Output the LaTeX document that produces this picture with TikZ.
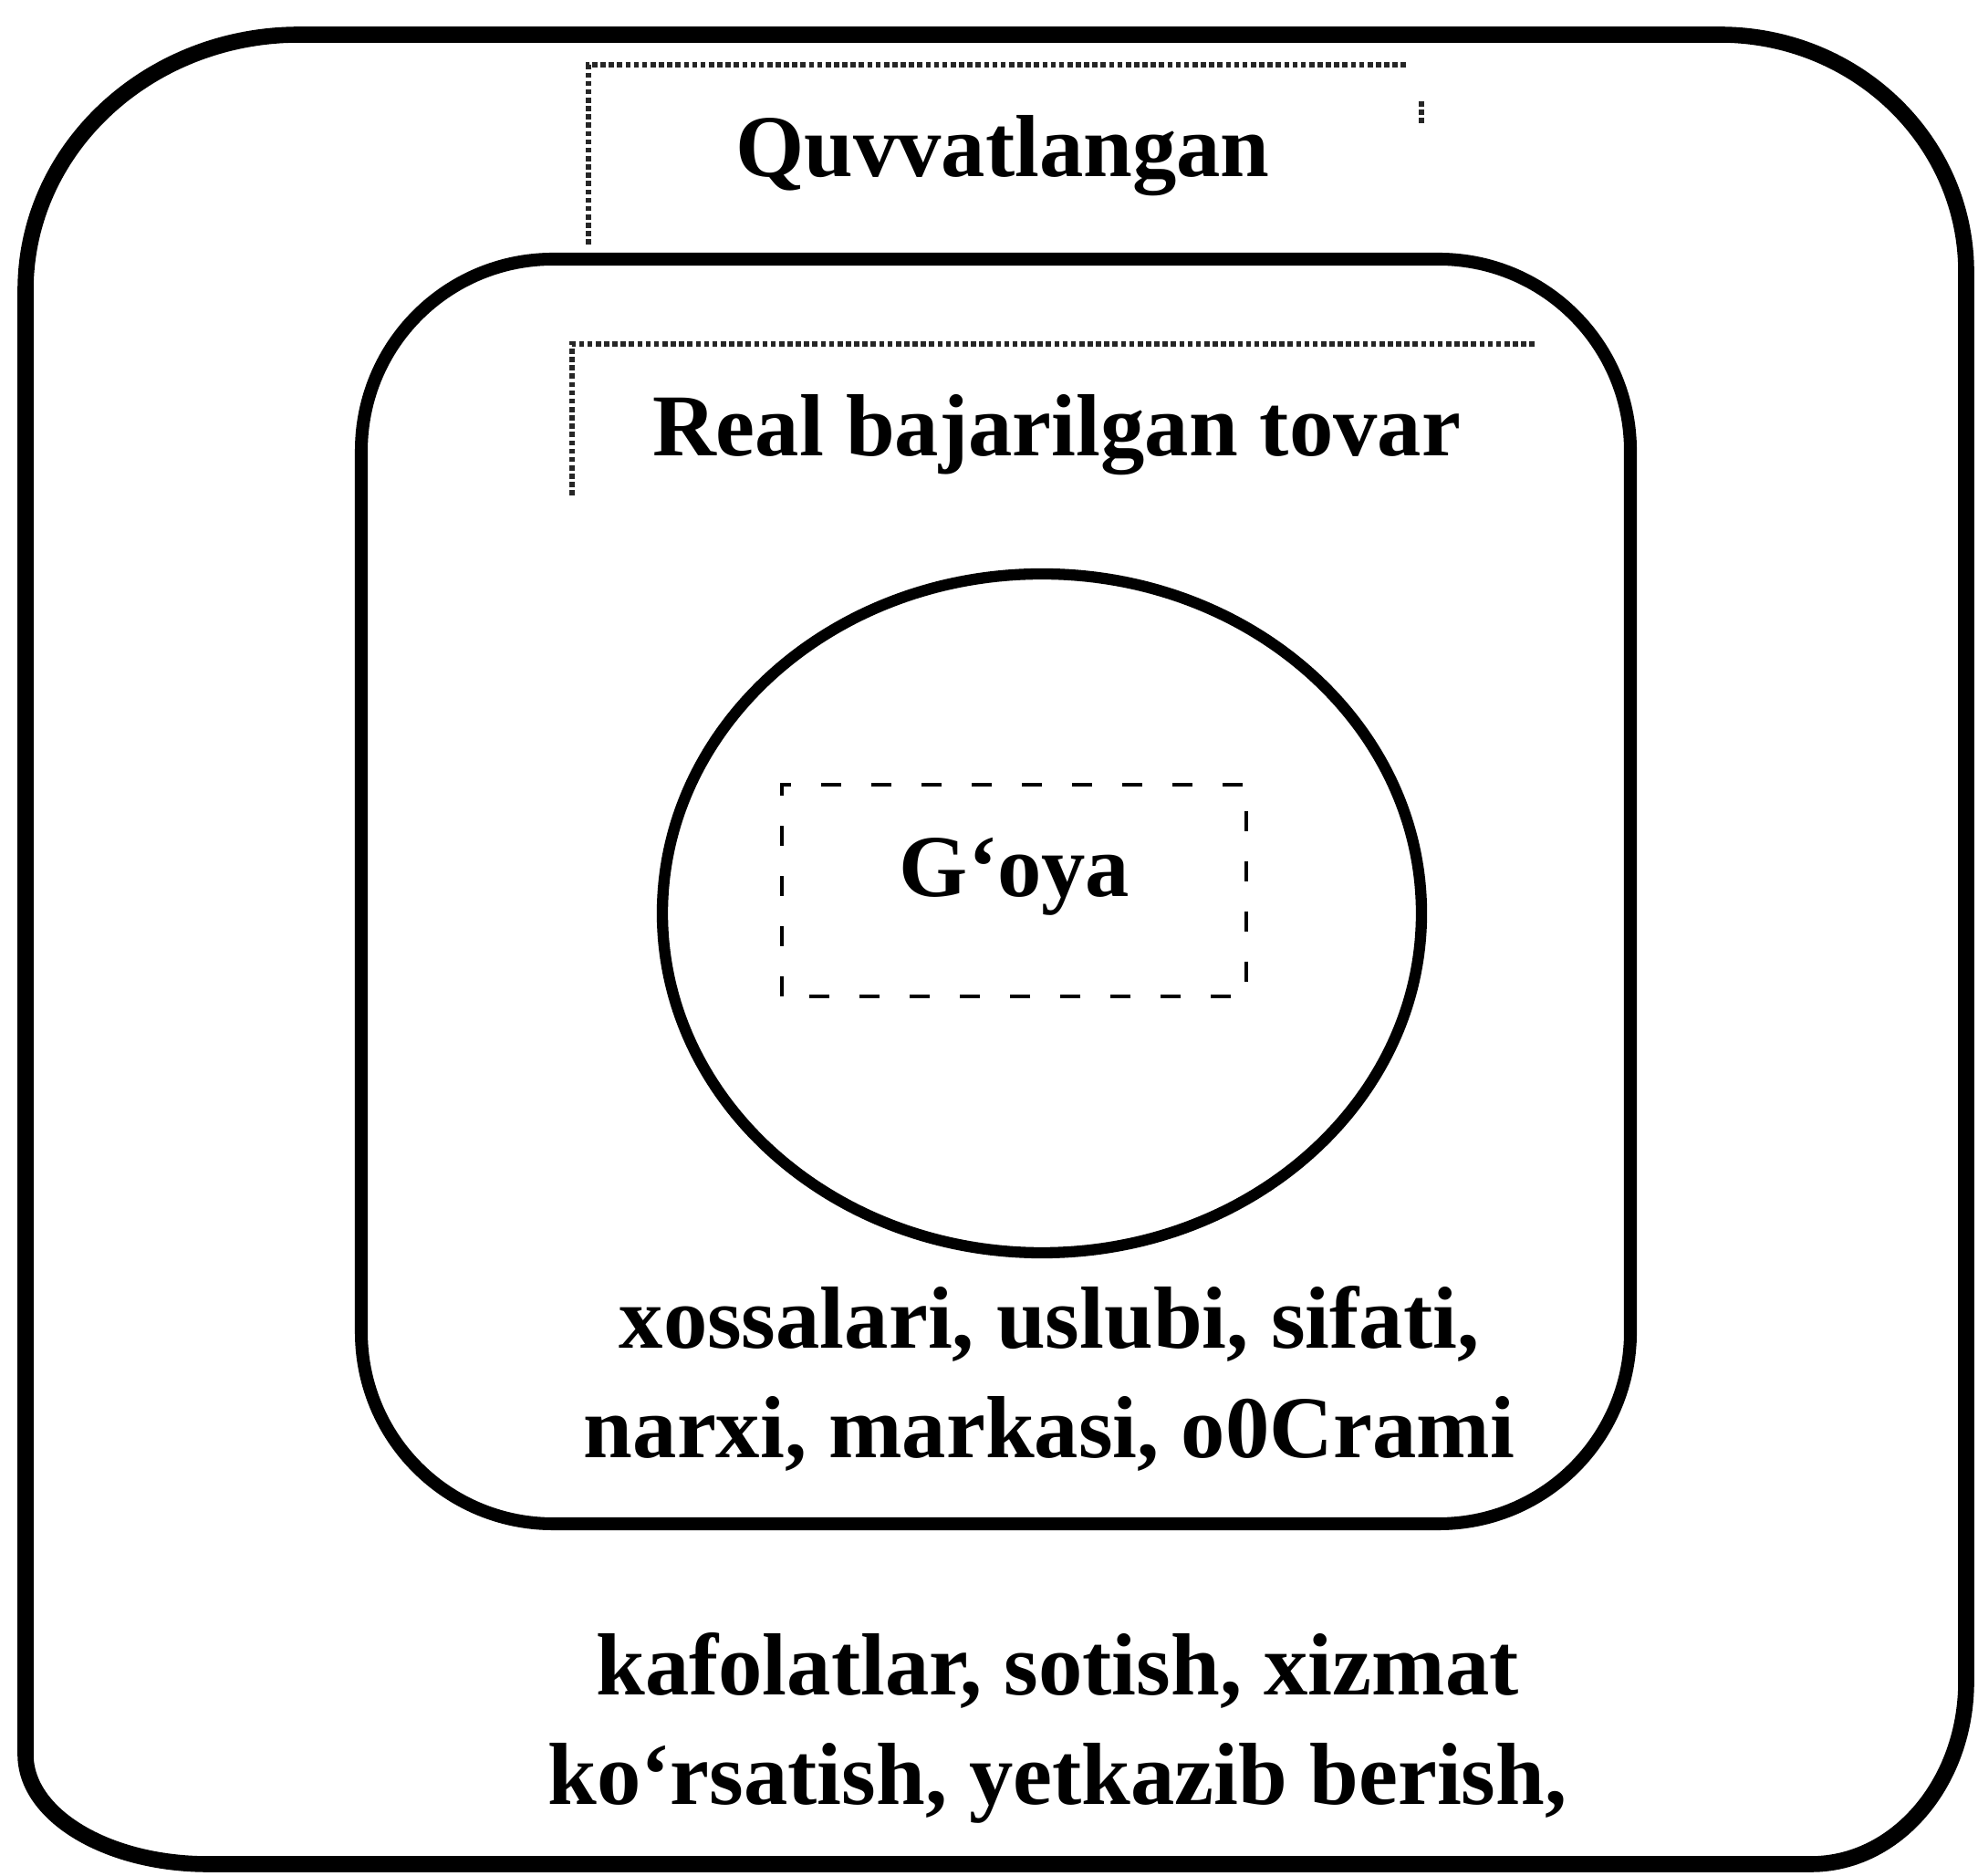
\documentclass[tikz,border=0pt]{standalone}
\usepackage{fontspec}
\setmainfont{Liberation Serif}
\begin{document}
\begin{tikzpicture}[lbl/.style={font=\bfseries\fontsize{27.5}{34}\selectfont,inner sep=0pt},
  dotbox/.style={densely dotted,line width=1.6pt,black!85}]
\useasboundingbox (0,0) rectangle (21.68,20.55);
\draw[line width=5pt] (0.28,1.32) -- (0.28,17.37) arc[start angle=180,end angle=90,x radius=3,y radius=2.8]
  -- (18.85,20.17) arc[start angle=90,end angle=0,x radius=2.7,y radius=2.6]
  -- (21.55,2.12) arc[start angle=0,end angle=-90,x radius=1.7,y radius=2]
  -- (2.28,0.12) arc[start angle=270,end angle=180,x radius=2,y radius=1.2] -- cycle;
\draw[line width=4pt,rounded corners=2.1cm] (3.96,3.85) rectangle (17.87,17.71);
\draw[line width=3.5pt] (11.42,10.54) ellipse [x radius=4.16,y radius=3.72];
\draw[dotbox] (6.45,17.87) -- (6.45,19.84) -- (15.43,19.84);
\draw[dotbox] (15.58,19.44) -- (15.58,19.17);
\draw[dotbox] (6.27,15.12) -- (6.27,16.78) -- (16.83,16.78);
\draw[line width=1.4pt,dash pattern=on 0.22cm off 0.33cm] (8.57,9.63) rectangle (13.66,11.95);
\node[lbl,anchor=base] (quv) at (10.99,18.61) {Quvvatlangan};
\node[lbl,anchor=base] (real) at (11.58,15.55) {Real bajarilgan tovar};
\node[lbl,anchor=base] (goya) at (11.12,10.72) {G‘oya};
\node[lbl,align=center] (xos) at (11.50,5.44) {xossalari, uslubi, sifati,\\narxi, markasi, o0Crami};
\node[lbl,align=center] (kaf) at (11.59,1.61) {kafolatlar, sotish, xizmat\\ko‘rsatish, yetkazib berish,};
\end{tikzpicture}
\end{document}
